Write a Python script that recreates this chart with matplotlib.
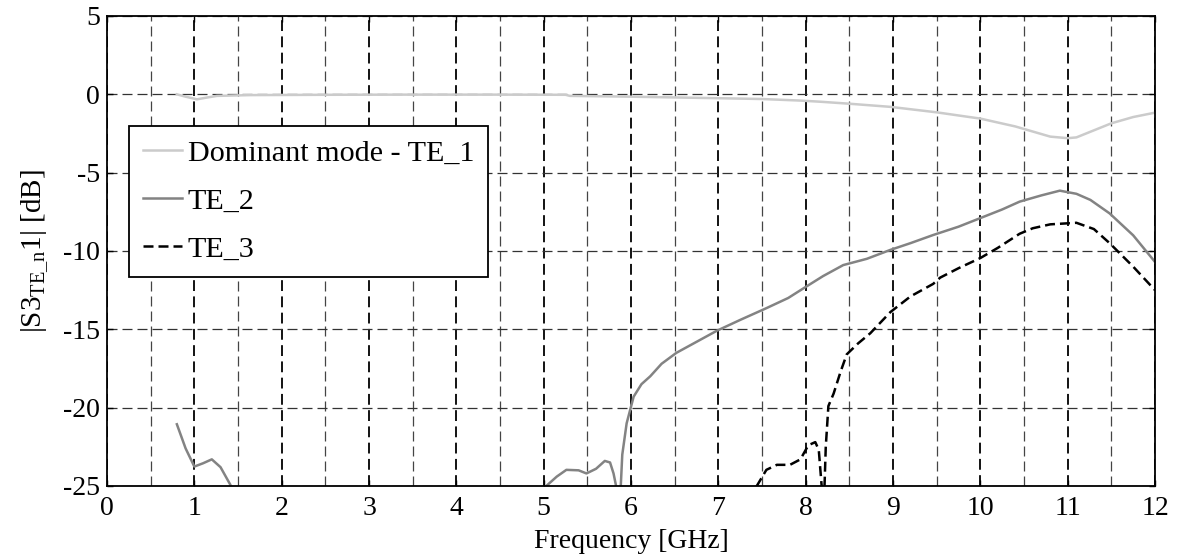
import numpy as np
from matplotlib import pyplot as plt
from matplotlib.ticker import MultipleLocator

plt.rcParams['font.family'] = ['Liberation Serif', 'DejaVu Serif']
plt.rcParams['mathtext.fontset'] = 'custom'
plt.rcParams['mathtext.rm'] = 'Liberation Serif'
plt.rcParams['mathtext.it'] = 'Liberation Serif:italic'
plt.rcParams['axes.unicode_minus'] = False

# Dominant mode - TE_1
f_te1 = [0.80, 0.90, 1.03, 1.15, 1.26, 1.64, 2.5, 3.4, 4.5, 5.25, 5.3, 6.0, 7.02, 7.5,
         7.94, 8.16, 8.5, 8.97, 9.5, 10.0, 10.4, 10.8, 11.0, 11.1, 11.3, 11.5, 11.75, 12.0]
s_te1 = [0.0, -0.15, -0.32, -0.2, -0.1, -0.05, -0.03, -0.02, -0.02, -0.03, -0.1, -0.15, -0.25, -0.3,
         -0.4, -0.47, -0.6, -0.8, -1.15, -1.55, -2.05, -2.7, -2.8, -2.75, -2.3, -1.85, -1.45, -1.17]

# TE_2 (NaN where the curve leaves the axes at the bottom)
f_te2 = [0.80, 0.90, 1.0, 1.1, 1.2, 1.3, 1.41, 1.5, np.nan,
         4.75, 5.03, 5.15, 5.26, 5.4, 5.49, 5.6, 5.70, 5.76, 5.80, 5.84, 5.86, np.nan,
         5.87, 5.90, 5.95, 6.03, 6.12, 6.22, 6.35, 6.52, 6.75, 6.98, 7.25, 7.55, 7.8, 7.97,
         8.2, 8.43, 8.7, 8.97, 9.2, 9.46, 9.75, 10.0, 10.25, 10.45, 10.7, 10.91, 11.1, 11.26,
         11.48, 11.75, 12.0]
s_te2 = [-21.06, -22.6, -23.76, -23.55, -23.3, -23.8, -24.9, -26.0, np.nan,
         -26.0, -25.0, -24.4, -23.97, -24.0, -24.2, -23.9, -23.4, -23.5, -24.2, -25.3, -26.5, np.nan,
         -26.5, -23.0, -21.0, -19.3, -18.5, -18.0, -17.2, -16.5, -15.8, -15.1, -14.4, -13.65, -13.0, -12.4,
         -11.6, -10.9, -10.5, -9.93, -9.5, -8.98, -8.45, -7.9, -7.35, -6.85, -6.45, -6.15, -6.35, -6.74,
         -7.6, -9.0, -10.7]

# TE_3
f_te3 = [7.40, 7.44, 7.55, 7.67, 7.82, 7.94, 8.03, 8.11, 8.15, 8.18, 8.20, np.nan,
         8.21, 8.23, 8.26, 8.32, 8.40, 8.47, 8.6, 8.74, 8.97, 9.2, 9.46, 9.54, 9.75, 10.0,
         10.2, 10.45, 10.6, 10.8, 11.1, 11.3, 11.48, 11.75, 12.0]
s_te3 = [-26.0, -25.0, -23.97, -23.65, -23.65, -23.3, -22.4, -22.2, -22.7, -24.8, -26.0, np.nan,
         -26.0, -22.5, -19.9, -19.1, -17.7, -16.6, -15.9, -15.25, -13.9, -12.9, -12.1, -11.7, -11.1, -10.45,
         -9.8, -8.9, -8.55, -8.3, -8.2, -8.6, -9.5, -11.0, -12.5]

fig = plt.figure(figsize=(11.81, 5.57), dpi=100)
ax = fig.add_axes([0.0906, 0.1275, 0.8874, 0.8438])

ax.plot(f_te1, s_te1, color='#cbcbcb', lw=1.8, label='Dominant mode - TE_1')
ax.plot(f_te2, s_te2, color='#838383', lw=1.8, label='TE_2')
ax.plot(f_te3, s_te3, color='black', lw=1.8, linestyle=(0, (4.0, 2.0)), label='TE_3')

ax.set_xlim(0, 12)
ax.set_ylim(-25, 5)
ax.xaxis.set_major_locator(MultipleLocator(1))
ax.xaxis.set_minor_locator(MultipleLocator(0.5))
ax.yaxis.set_major_locator(MultipleLocator(5))

ax.grid(True, axis='x', which='major', color='black', lw=1.3, linestyle=(0, (6, 3)))
ax.grid(True, axis='x', which='minor', color='#444444', lw=0.9, linestyle=(0, (8, 4)))
ax.grid(True, axis='y', which='major', color='#333333', lw=0.9, linestyle=(0, (8, 4)))

ax.tick_params(axis='both', which='major', direction='in', top=True, right=True,
               labelsize=20, length=4, width=1)
ax.tick_params(axis='x', which='major', pad=7)
ax.tick_params(axis='y', which='major', pad=5)
ax.tick_params(axis='x', which='minor', length=0)
for sp in ax.spines.values():
    sp.set_linewidth(1.3)

ax.set_xlabel('Frequency [GHz]', fontsize=20, labelpad=6)
ax.set_ylabel(r'|S3$_{\mathrm{TE\_n}}$1| [dB]', fontsize=21, labelpad=9)

leg = ax.legend(loc='upper left', bbox_to_anchor=(0.021, 0.766), fontsize=21.7,
                frameon=True, fancybox=False, framealpha=1, edgecolor='black',
                handlelength=1.3, handletextpad=0.2, labelspacing=0.7,
                borderpad=0.45, borderaxespad=0)
leg.get_frame().set_linewidth(1.3)

plt.savefig('out.png', dpi=100)
